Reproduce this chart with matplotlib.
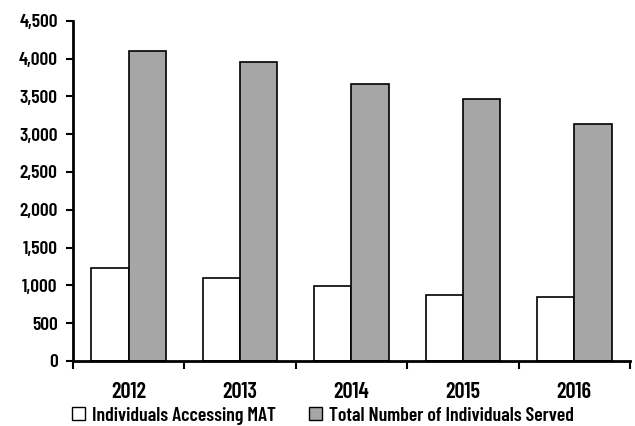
import numpy as np
import matplotlib.pyplot as plt
from matplotlib.ticker import FuncFormatter
from matplotlib.patches import Patch

years = ["2012", "2013", "2014", "2015", "2016"]
accessing_mat = [1230, 1090, 990, 870, 840]
total_served = [4100, 3950, 3660, 3460, 3140]

plt.rcParams['font.family'] = ['Barlow Condensed', 'DejaVu Sans']
plt.rcParams['font.weight'] = 600

fig = plt.figure(figsize=(6.35, 4.26), dpi=100)
ax = fig.add_axes([0.115, 0.153, 0.877, 0.798])

x = np.arange(len(years))
w = 0.335
ax.bar(x - w/2, accessing_mat, w, color="white", edgecolor="black", linewidth=1.2)
ax.bar(x + w/2, total_served, w, color="#a6a6a6", edgecolor="black", linewidth=1.2)

ax.set_xlim(-0.5, len(years) - 0.5)
ax.set_ylim(0, 4500)
ax.set_yticks(np.arange(0, 4501, 500))
ax.yaxis.set_major_formatter(FuncFormatter(lambda v, p: f"{int(v):,}"))

ax.set_xticks(x)
ax.set_xticklabels(years)
ax.set_xticks(np.arange(-0.5, len(years)), minor=True)
ax.tick_params(axis="x", which="major", length=0, pad=15, labelsize=16)
ax.tick_params(axis="x", which="minor", length=6, width=1.5, direction="out")
ax.tick_params(axis="y", length=5, width=1.5, direction="out", labelsize=14, pad=6)

for s in ["top", "right"]:
    ax.spines[s].set_visible(False)
for s in ["left", "bottom"]:
    ax.spines[s].set_linewidth(2)

handles = [Patch(facecolor="white", edgecolor="black", label="Individuals Accessing MAT"),
           Patch(facecolor="#a6a6a6", edgecolor="black", label="Total Number of Individuals Served")]
fig.legend(handles=handles, loc="center", bbox_to_anchor=(0.509, 0.024), ncol=2,
           frameon=False, fontsize=14.2, handlelength=0.65, handleheight=0.65,
           handletextpad=0.35, columnspacing=1.7, borderpad=0)

fig.savefig("out.png", dpi=100)
